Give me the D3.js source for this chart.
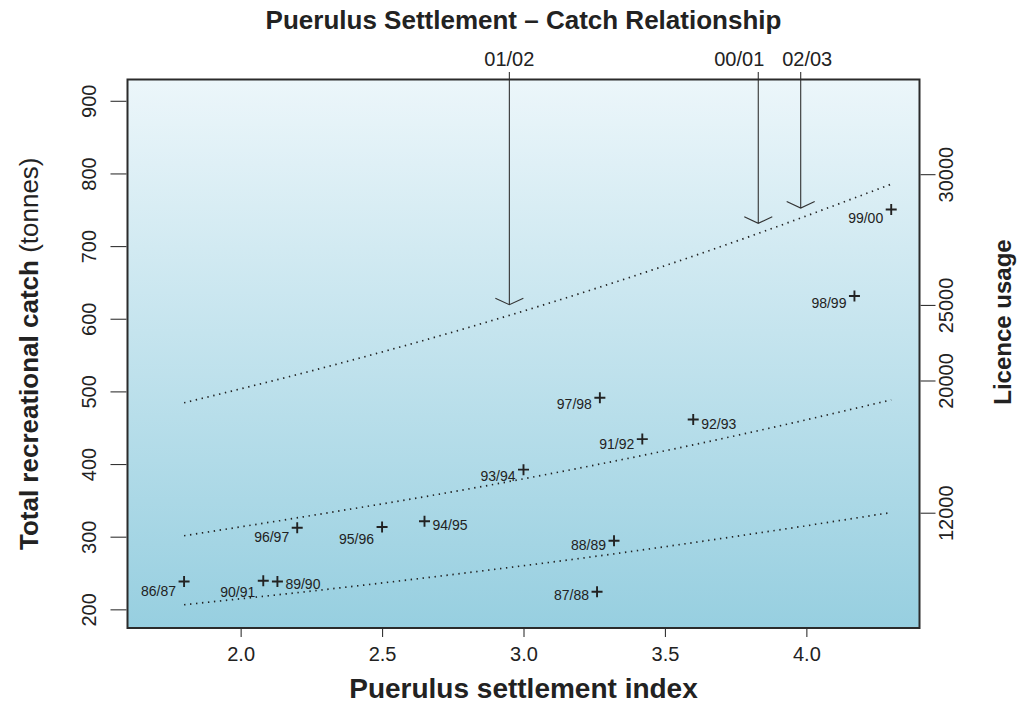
<!DOCTYPE html>
<html>
<head>
<meta charset="utf-8">
<script src="https://cdn.jsdelivr.net/npm/d3@7/dist/d3.min.js"></script>
<style>
  html, body { margin: 0; padding: 0; background: #ffffff; }
  svg { display: block; font-family: "Liberation Sans", Arial, Helvetica, sans-serif; }
</style>
</head>
<body>
<svg id="chart" width="1018" height="705"></svg>
<script>
// Seasons and their (settlement index, recreational catch) observations
const seasons = ["86/87", "87/88", "88/89", "89/90", "90/91", "91/92", "92/93",
                 "93/94", "94/95", "95/96", "96/97", "97/98", "98/99", "99/00"];
const settlementIndex = [1.80, 3.26, 3.32, 2.13, 2.08, 3.42, 3.60,
                         3.00, 2.65, 2.50, 2.20, 3.27, 4.17, 4.30];
const recCatch = [239, 225, 295, 239, 240, 435, 462,
                  393, 322, 314, 313, 492, 632, 751];

// Fitted catch-settlement relationships (three licence levels)
const curveX = [1.8, 2.3, 2.8, 3.3, 3.8, 4.3];
const upperCurve = [485, 534, 588, 648, 714, 786];
const middleCurve = [302, 333, 366, 403, 444, 489];
const lowerCurve = [207, 228, 251, 276, 304, 334];

// Forecast seasons marked with arrows
const arrowSeasons = ["01/02", "00/01", "02/03"];
const arrowIndex = [2.95, 3.83, 3.98];
const arrowCatch = [620, 732, 753];

// Axis ticks
const xTicks = [2.0, 2.5, 3.0, 3.5, 4.0];
const catchTicks = [200, 300, 400, 500, 600, 700, 800, 900];
const licenceTicks = [12000, 20000, 25000, 30000];
const licenceAsCatch = [333, 515, 619, 799];

// Label placement (side of the point and vertical nudge in px)
const labelSide = ["L", "L", "L", "R", "L", "L", "R", "L", "R", "L", "L", "L", "L", "L"];
const labelNudge = [9, 3, 4, 2, 11, 5, 5, 6, 4, 12, 9, 6, 7, 8];
const arrowLabelShift = [0, -19, 6.5];

const svg = d3.select("#chart");
const box = { left: 127.5, right: 919.5, top: 79.5, bottom: 628 };
const ink = "#222222";

const x = d3.scaleLinear().domain([1.6, 4.4]).range([box.left, box.right]);
const y = d3.scaleLinear().domain([175, 930]).range([box.bottom, box.top]);
const yLicence = d3.scaleLinear().domain(licenceTicks).range(licenceAsCatch.map(y));

// Background gradient inside the plotting region
const defs = svg.append("defs");
const grad = defs.append("linearGradient")
  .attr("id", "panelFill").attr("x1", 0).attr("y1", 0).attr("x2", 0).attr("y2", 1);
grad.append("stop").attr("offset", "0%").attr("stop-color", "#ecf6fa");
grad.append("stop").attr("offset", "100%").attr("stop-color", "#97cfe0");

svg.append("rect")
  .attr("x", box.left).attr("y", box.top)
  .attr("width", box.right - box.left).attr("height", box.bottom - box.top)
  .attr("fill", "url(#panelFill)");

// Dotted relationship curves
const line = d3.line()
  .x(d => x(d[0])).y(d => y(d[1]))
  .curve(d3.curveMonotoneX);
[upperCurve, middleCurve, lowerCurve].forEach(c => {
  svg.append("path")
    .datum(curveX.map((v, i) => [v, c[i]]))
    .attr("d", line)
    .attr("fill", "none")
    .attr("stroke", ink)
    .attr("stroke-width", 1.7)
    .attr("stroke-dasharray", "1.4 4.6");
});

// Observed seasons as plus signs with labels
const pts = svg.append("g");
seasons.forEach((s, i) => {
  const px = x(settlementIndex[i]), py = y(recCatch[i]);
  pts.append("path")
    .attr("d", `M${px - 5.5},${py}H${px + 5.5}M${px},${py - 5.5}V${py + 5.5}`)
    .attr("stroke", ink).attr("stroke-width", 1.9);
  const left = labelSide[i] === "L";
  pts.append("text")
    .attr("x", left ? px - 8 : px + 8)
    .attr("y", py + labelNudge[i])
    .attr("dominant-baseline", "central")
    .attr("text-anchor", left ? "end" : "start")
    .attr("font-size", 14)
    .attr("fill", ink)
    .text(s);
});

// Forecast arrows from above the panel
const arrows = svg.append("g");
arrowSeasons.forEach((s, i) => {
  const ax = x(arrowIndex[i]), tip = y(arrowCatch[i]);
  arrows.append("path")
    .attr("d", `M${ax},${box.top - 7.5}V${tip}M${ax - 14},${tip - 6.5}L${ax},${tip}L${ax + 14},${tip - 6.5}`)
    .attr("fill", "none").attr("stroke", "#333333").attr("stroke-width", 1.1);
  arrows.append("text")
    .attr("x", ax + arrowLabelShift[i]).attr("y", 66)
    .attr("text-anchor", "middle")
    .attr("font-size", 20).attr("fill", ink)
    .text(s);
});

// Panel frame
svg.append("rect")
  .attr("x", box.left).attr("y", box.top)
  .attr("width", box.right - box.left).attr("height", box.bottom - box.top)
  .attr("fill", "none").attr("stroke", "#2b2b2b").attr("stroke-width", 2);

// Bottom axis
const gx = svg.append("g").attr("transform", `translate(0,${box.bottom + 1})`)
  .call(d3.axisBottom(x).tickValues(xTicks).tickFormat(d3.format(".1f")).tickSize(8).tickPadding(10));
gx.select(".domain").remove();
gx.selectAll("line").attr("stroke", "#333333").attr("stroke-width", 1.1);
gx.selectAll("text").attr("font-size", 20).attr("fill", ink).attr("font-family", null);

// Left axis (catch)
const gy = svg.append("g").attr("transform", `translate(${box.left - 1},0)`)
  .call(d3.axisLeft(y).tickValues(catchTicks).tickSize(16));
gy.select(".domain").remove();
gy.selectAll("line").attr("stroke", "#333333").attr("stroke-width", 1.1);
gy.selectAll("text")
  .attr("x", null).attr("dy", null)
  .attr("transform", d => `translate(-38,${y(d)}) rotate(-90)`)
  .attr("text-anchor", "middle").attr("dominant-baseline", "central")
  .attr("font-size", 20).attr("fill", ink).attr("font-family", null);
gy.selectAll(".tick").attr("transform", null);
gy.selectAll(".tick line").attr("transform", d => `translate(0,${y(d)})`);

// Right axis (licence usage)
const gr = svg.append("g").attr("transform", `translate(${box.right + 1},0)`)
  .call(d3.axisRight(yLicence).tickValues(licenceTicks).tickFormat(d3.format("d")).tickSize(15));
gr.select(".domain").remove();
gr.selectAll("line").attr("stroke", "#333333").attr("stroke-width", 1.1);
gr.selectAll(".tick").attr("transform", null);
gr.selectAll(".tick line").attr("transform", d => `translate(0,${yLicence(d)})`);
gr.selectAll("text")
  .attr("x", null).attr("dy", null)
  .attr("transform", d => `translate(25,${yLicence(d)}) rotate(-90)`)
  .attr("text-anchor", "middle").attr("dominant-baseline", "central")
  .attr("font-size", 20).attr("fill", ink).attr("font-family", null);

// Titles
svg.append("text")
  .attr("x", (box.left + box.right) / 2).attr("y", 29)
  .attr("text-anchor", "middle").attr("font-size", 26).attr("font-weight", "bold").attr("fill", ink)
  .text("Puerulus Settlement \u2013 Catch Relationship");

svg.append("text")
  .attr("x", (box.left + box.right) / 2).attr("y", 698)
  .attr("text-anchor", "middle").attr("font-size", 28).attr("font-weight", "bold").attr("fill", ink)
  .text("Puerulus settlement index");

const yTitle = svg.append("text")
  .attr("transform", `translate(38,${(box.top + box.bottom) / 2}) rotate(-90)`)
  .attr("text-anchor", "middle").attr("font-size", 26).attr("fill", ink);
yTitle.append("tspan").attr("font-weight", "bold").text("Total recreational catch");
yTitle.append("tspan").text(" (tonnes)");

svg.append("text")
  .attr("transform", "translate(1011,322) rotate(-90)")
  .attr("text-anchor", "middle").attr("font-size", 24).attr("font-weight", "bold").attr("fill", ink)
  .text("Licence usage");
</script>
</body>
</html>
